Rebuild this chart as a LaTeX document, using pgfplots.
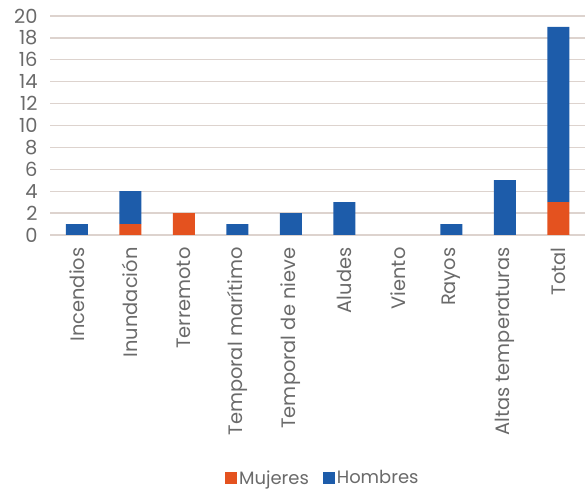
\documentclass[border=0pt]{standalone}
\usepackage{pgfplots}
\pgfplotsset{compat=1.18}
\usepackage{fontspec}
\setmainfont{Poppins}
\definecolor{muj}{HTML}{E4521F}
\definecolor{hom}{HTML}{1D5CAA}
\definecolor{grd}{HTML}{DDD3CE}
\definecolor{txt}{HTML}{6A6A6A}
\begin{document}
\begin{tikzpicture}[x=1bp,y=1bp]
\useasboundingbox (0,0) rectangle (585,496);
\begin{axis}[
  at={(50bp,261bp)}, anchor=south west,
  scale only axis, width=535bp, height=219bp,
  ybar stacked, bar width=22bp,
  xmin=-0.5, xmax=9.5, ymin=0, ymax=20,
  xtick=data,
  xticklabels={Incendios,Inundación,Terremoto,Temporal marítimo,Temporal de nieve,Aludes,Viento,Rayos,Altas temperaturas,Total},
  ytick={0,2,...,20},
  axis line style={draw=none},
  major tick length=0pt,
  ymajorgrids, major grid style={grd, line width=1.3bp},
  every tick label/.append style={font=\fontsize{19.5}{19.5}\selectfont, text=txt},
  /pgf/number format/assume math mode=true,
  xticklabel style={rotate=90, anchor=east, xshift=-9bp},
  yticklabel style={xshift=-9bp},
  legend style={at={(0.51,-1.11)}, anchor=center, draw=none, legend columns=2,
    font=\fontsize{18}{18}\selectfont, text=txt,
    /tikz/every even column/.append style={column sep=12bp}},
  legend image code/.code={\fill[#1] (0bp,-6bp) rectangle (12bp,6bp);},
]
\addplot[fill=muj, draw=none] coordinates {(0,0) (1,1) (2,2) (3,0) (4,0) (5,0) (6,0) (7,0) (8,0) (9,3)};
\addlegendentry{Mujeres}
\addplot[fill=hom, draw=none] coordinates {(0,1) (1,3) (2,0) (3,1) (4,2) (5,3) (6,0) (7,1) (8,5) (9,16)};
\addlegendentry{Hombres}
\end{axis}
\end{tikzpicture}
\end{document}
